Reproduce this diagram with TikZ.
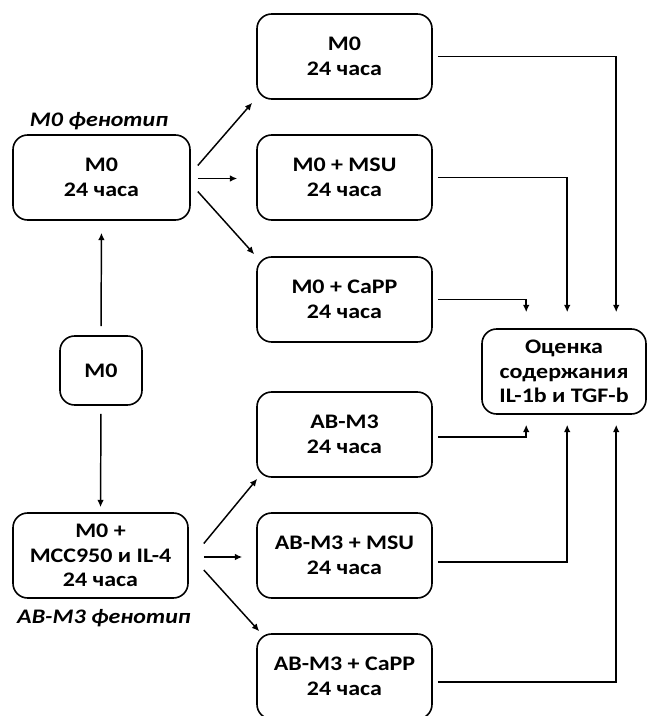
\documentclass[tikz,border=0pt]{standalone}
\usepackage{fontspec}
\setmainfont{Carlito}[FakeStretch=1.16]
\usetikzlibrary{arrows.meta,calc}
\tikzset{
	box/.style={draw, line width=1.2pt, rounded corners=11pt, align=center, inner sep=0pt,
		minimum width=131.25pt, minimum height=63.75pt,
		font=\bfseries\fontsize{15.5}{18.5}\selectfont},
	phen/.style={font=\bfseries\itshape\fontsize{15.5}{18.5}\selectfont},
	arr/.style={line width=1.1pt, -{Latex[length=5.5pt,width=5pt]}},
	lnk/.style={line width=1.1pt, rounded corners=0pt, -{Latex[length=5.5pt,width=5pt]}}
}
\begin{document}
\begin{tikzpicture}[x=0.75pt, y=-0.75pt]
	\useasboundingbox (0,0) rectangle (653,716);
	% левая колонка
	\node[box, minimum width=61.5pt, minimum height=51.75pt] (m0) at (101,370.5) {M0};
	\node[box, minimum width=132.75pt] (m0ph) at (101.5,177.5) {M0\\24 часа};
	\node[box] (abph) at (100.5,555.5) {M0 +\\MCC950 и IL-4\\24 часа};
	\node[phen] (lab1) at (99,121) {M0 фенотип};
	\node[phen] (lab2) at (104,618) {AB-M3 фенотип};
	% средняя колонка
	\node[box] (r1) at (344.5,56.5) {M0\\24 часа};
	\node[box] (r2) at (344.5,177.5) {M0 + MSU\\24 часа};
	\node[box] (r3) at (344.5,299.5) {M0 + CaPP\\24 часа};
	\node[box] (r4) at (344.5,434.5) {AB-M3\\24 часа};
	\node[box] (r5) at (344.5,555.5) {AB-M3 + MSU\\24 часа};
	\node[box] (r6) at (344.5,676.5) {AB-M3 + CaPP\\24 часа};
	% итог
	\node[box, minimum width=123pt] (ev) at (564,371.5) {Оценка\\содержания\\IL-1b и TGF-b};
	
	\draw[arr, shorten <=6.75pt, shorten >=9pt] (m0.north) -- (m0ph.south);
	\draw[arr, shorten <=6pt, shorten >=3.75pt] (m0.south) -- (abph.north);
	
	\draw[arr] ($(m0ph.east)+(7,-12)$) -- ($(r1.south west)+(-4,3)$);
	\draw[arr] ($(m0ph.east)+(7,1)$) -- ($(r2.west)+(-19,1)$);
	\draw[arr] ($(m0ph.east)+(7,14)$) -- ($(r3.north west)+(-2,-2)$);
	\draw[arr] ($(abph.east)+(15,-12)$) -- ($(r4.south west)+(1,1)$);
	\draw[arr] ($(abph.east)+(15,1.5)$) -- ($(r5.west)+(-14,1.5)$);
	\draw[arr] ($(abph.east)+(15,14.5)$) -- ($(r6.north west)+(3,-2)$);
	
	\draw[lnk, shorten <=3.75pt, shorten >=12pt] (r1.east) -| ($(ev.north west)+(135,0)$);
	\draw[lnk, shorten <=3.75pt, shorten >=12pt] (r2.east) -| ($(ev.north west)+(86,0)$);
	\draw[lnk, shorten <=3.75pt, shorten >=12pt] (r3.east) -| ($(ev.north west)+(45,0)$);
	\draw[lnk, shorten <=3.75pt, shorten >=7.5pt] ($(r4.east)+(0,2.5)$) -| ($(ev.south west)+(45,0)$);
	\draw[lnk, shorten <=3.75pt, shorten >=7.5pt] ($(r5.east)+(0,6.5)$) -| ($(ev.south west)+(86,0)$);
	\draw[lnk, shorten <=3.75pt, shorten >=7.5pt] ($(r6.east)+(0,5.5)$) -| ($(ev.south west)+(135,0)$);
\end{tikzpicture}
\end{document}
